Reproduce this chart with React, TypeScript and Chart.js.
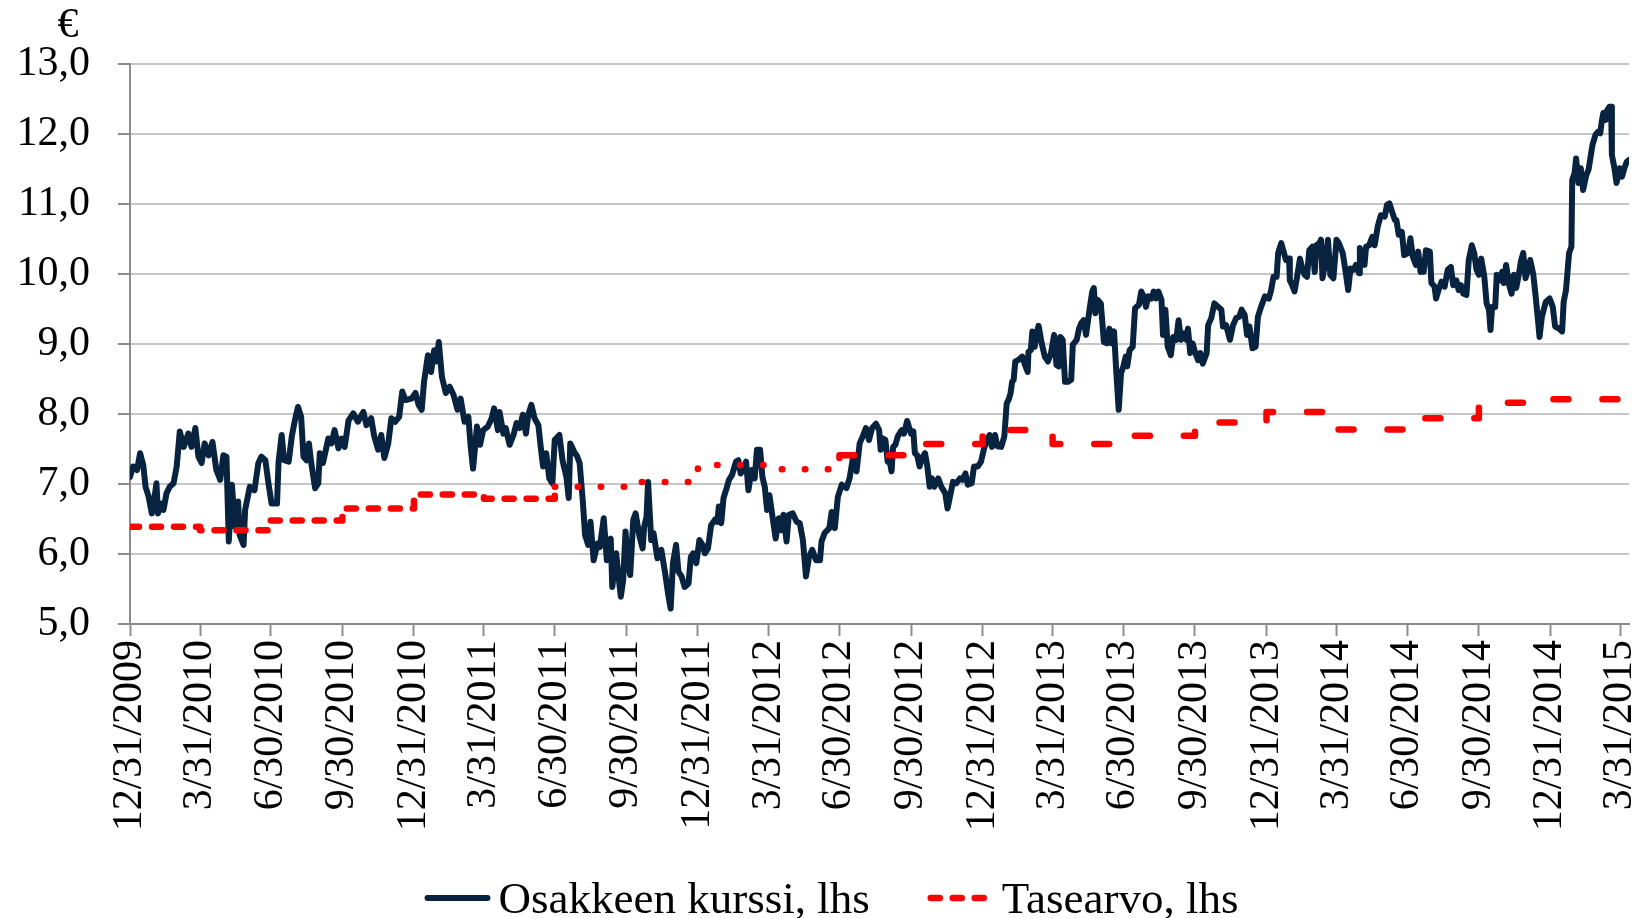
import React, { useEffect, useRef } from 'react';
import { Chart, registerables } from 'chart.js';

Chart.register(...registerables);

const FONT = '"Liberation Serif", "Times New Roman", serif';

const unitLabel = '€';
const seriesLabels = ['Osakkeen kurssi, lhs', 'Tasearvo, lhs'];
const seriesColors = ['#08233f', '#ff0000'];

const startDate = '12/31/2009';
const tickLabels = [
  '12/31/2009', '3/31/2010', '6/30/2010', '9/30/2010', '12/31/2010', '3/31/2011',
  '6/30/2011', '9/30/2011', '12/31/2011', '3/31/2012', '6/30/2012', '9/30/2012',
  '12/31/2012', '3/31/2013', '6/30/2013', '9/30/2013', '12/31/2013', '3/31/2014',
  '6/30/2014', '9/30/2014', '12/31/2014', '3/31/2015',
];
const yMin = 5;
const yMax = 13;
const lastDay = 1927;

// share price: [days since 12/31/2009, EUR]
const priceHistory: [number, number][] = [
  [0,7.10],[4,7.25],[9,7.20],[13,7.44],[17,7.27],[20,6.96],[24,6.82],[28,6.58],[31,6.77],[34,7.01],
  [36,6.58],[40,6.72],[43,6.63],[47,6.87],[51,6.96],[56,7.01],[60,7.25],[64,7.75],[69,7.53],[75,7.72],
  [79,7.53],[84,7.80],[88,7.39],[92,7.30],[96,7.58],[101,7.41],[106,7.60],[111,7.20],[116,7.06],[120,7.41],
  [124,7.39],[127,6.18],[131,6.99],[135,6.39],[139,6.75],[141,6.27],[146,6.13],[148,6.63],[154,6.96],[160,6.91],
  [165,7.30],[169,7.39],[174,7.34],[178,7.01],[182,6.72],[189,6.72],[191,7.32],[195,7.70],[198,7.34],[204,7.32],
  [208,7.68],[212,7.91],[216,8.10],[220,7.96],[223,7.39],[227,7.34],[230,7.58],[233,7.30],[238,6.94],[242,7.01],
  [244,7.44],[248,7.30],[255,7.65],[259,7.58],[263,7.77],[268,7.51],[272,7.65],[276,7.53],[281,7.91],[287,8.01],
  [293,7.89],[300,8.03],[304,7.84],[310,7.94],[314,7.68],[319,7.49],[323,7.70],[327,7.37],[332,7.58],[336,7.94],
  [341,7.89],[346,7.96],[350,8.32],[354,8.20],[362,8.22],[367,8.30],[371,8.13],[375,8.06],[378,8.46],[383,8.84],
  [387,8.60],[391,8.91],[394,8.75],[397,9.03],[401,8.53],[406,8.30],[411,8.39],[416,8.27],[421,8.06],[425,8.22],
  [430,7.89],[435,7.96],[438,7.53],[441,7.22],[446,7.82],[450,7.56],[454,7.77],[460,7.82],[465,7.94],[468,8.08],
  [473,7.77],[475,8.03],[480,7.72],[483,7.80],[488,7.56],[493,7.70],[497,7.87],[501,7.80],[505,7.99],[509,7.72],
  [512,7.99],[516,8.13],[520,7.94],[525,7.84],[528,7.53],[531,7.25],[535,7.44],[539,7.08],[543,7.01],[546,7.63],
  [552,7.70],[556,7.34],[561,7.10],[564,6.80],[566,7.58],[571,7.46],[575,7.39],[578,7.30],[582,6.77],[585,6.27],
  [589,6.13],[592,6.46],[596,5.91],[601,6.15],[604,6.10],[609,6.51],[613,5.91],[618,6.22],[620,5.53],[625,6.01],
  [628,5.68],[631,5.39],[634,5.63],[637,6.32],[640,5.91],[643,5.70],[647,6.49],[650,6.58],[655,6.25],[659,6.08],
  [661,6.39],[664,6.53],[666,7.03],[670,6.20],[673,6.30],[678,5.94],[683,6.06],[688,5.72],[692,5.41],[695,5.22],
  [698,5.87],[702,6.13],[705,5.75],[709,5.68],[713,5.53],[718,5.58],[721,5.96],[724,6.01],[728,5.87],[732,6.20],
  [736,6.13],[739,6.01],[743,6.08],[747,6.41],[752,6.49],[755,6.46],[757,6.68],[760,6.44],[763,6.80],[767,6.94],
  [770,7.06],[774,7.13],[779,7.32],[782,7.34],[785,7.15],[788,7.20],[792,7.32],[795,6.91],[799,7.20],[803,7.08],
  [806,7.49],[810,7.49],[813,7.10],[816,6.96],[819,6.63],[822,6.84],[826,6.53],[830,6.22],[834,6.51],[837,6.34],
  [840,6.56],[844,6.18],[847,6.56],[852,6.58],[857,6.46],[861,6.44],[865,6.20],[869,5.68],[873,5.96],[877,6.06],
  [882,5.91],[887,5.91],[889,6.18],[893,6.30],[899,6.37],[902,6.60],[906,6.37],[910,6.82],[915,6.99],[921,6.94],
  [925,7.08],[930,7.41],[934,7.18],[938,7.58],[942,7.68],[946,7.80],[950,7.63],[954,7.80],[959,7.86],[963,7.77],
  [965,7.49],[968,7.65],[971,7.63],[974,7.32],[977,7.30],[979,7.18],[981,7.53],[984,7.56],[987,7.68],[992,7.77],
  [995,7.72],[999,7.90],[1004,7.72],[1007,7.75],[1009,7.44],[1012,7.41],[1015,7.25],[1018,7.37],[1022,7.44],[1025,7.25],
  [1028,6.96],[1031,7.08],[1034,6.96],[1039,7.08],[1043,6.96],[1048,6.87],[1051,6.65],[1055,6.87],[1058,7.03],[1062,7.01],
  [1067,7.08],[1070,7.06],[1074,7.15],[1077,6.99],[1082,7.01],[1085,7.25],[1090,7.25],[1094,7.32],[1098,7.51],[1102,7.63],
  [1105,7.70],[1108,7.53],[1112,7.70],[1115,7.54],[1120,7.53],[1124,7.68],[1127,8.15],[1130,8.22],[1132,8.30],[1134,8.46],
  [1136,8.49],[1138,8.75],[1142,8.77],[1147,8.82],[1150,8.72],[1154,8.60],[1155,8.89],[1158,8.91],[1160,9.18],[1163,8.96],
  [1165,9.13],[1168,9.26],[1172,9.01],[1176,8.82],[1180,8.75],[1184,8.87],[1188,9.13],[1191,8.70],[1194,8.68],[1196,9.10],
  [1199,9.06],[1202,8.46],[1206,8.46],[1210,8.49],[1212,8.99],[1217,9.06],[1220,9.22],[1223,9.30],[1226,9.34],[1229,9.13],
  [1234,9.53],[1237,9.75],[1239,9.80],[1241,9.44],[1244,9.63],[1248,9.58],[1252,9.03],[1256,9.01],[1259,9.22],[1262,9.01],
  [1265,9.18],[1268,8.58],[1271,8.06],[1274,8.58],[1277,8.68],[1280,8.82],[1282,8.68],[1285,8.91],[1289,8.96],[1292,9.51],
  [1297,9.56],[1300,9.75],[1303,9.68],[1306,9.53],[1309,9.68],[1313,9.65],[1316,9.75],[1319,9.65],[1322,9.75],[1326,9.63],
  [1328,9.13],[1331,9.49],[1334,8.96],[1338,8.84],[1341,9.10],[1345,9.06],[1348,9.34],[1351,9.06],[1355,9.15],[1358,9.06],
  [1360,9.22],[1363,8.87],[1366,9.01],[1369,8.89],[1373,8.77],[1376,8.87],[1379,8.72],[1384,8.87],[1386,9.27],[1390,9.37],
  [1394,9.58],[1399,9.53],[1403,9.49],[1405,9.25],[1409,9.27],[1414,9.06],[1418,9.27],[1422,9.37],[1426,9.39],[1429,9.49],
  [1433,9.41],[1436,9.13],[1439,9.25],[1443,8.94],[1447,8.96],[1450,9.39],[1454,9.53],[1459,9.68],[1464,9.65],[1467,9.77],
  [1470,9.96],[1474,9.96],[1476,10.30],[1480,10.44],[1483,10.32],[1486,10.20],[1490,10.22],[1491,9.91],[1494,9.84],[1497,9.75],
  [1500,9.94],[1504,10.22],[1507,10.08],[1510,9.99],[1513,9.96],[1516,10.34],[1520,10.39],[1523,10.03],[1525,10.41],[1529,10.44],
  [1531,10.49],[1533,9.94],[1537,10.20],[1540,10.49],[1543,9.99],[1547,9.94],[1551,10.49],[1554,10.44],[1559,10.30],[1563,10.01],
  [1566,9.77],[1569,10.08],[1573,10.06],[1576,10.13],[1580,10.01],[1581,10.37],[1584,10.27],[1587,10.13],[1589,10.39],[1593,10.41],
  [1597,10.53],[1600,10.41],[1604,10.68],[1608,10.84],[1613,10.82],[1616,10.99],[1619,11.01],[1623,10.87],[1626,10.77],[1628,10.77],
  [1631,10.56],[1635,10.60],[1638,10.27],[1643,10.30],[1646,10.51],[1649,10.25],[1653,10.13],[1656,10.32],[1659,10.03],[1661,10.18],
  [1663,10.03],[1666,10.34],[1671,10.32],[1673,9.87],[1677,9.82],[1679,9.65],[1683,9.80],[1686,9.89],[1690,9.82],[1694,10.06],
  [1698,10.10],[1701,9.84],[1705,9.91],[1708,9.77],[1711,9.84],[1714,9.72],[1718,9.70],[1721,10.20],[1725,10.41],[1728,10.30],
  [1731,10.06],[1734,9.99],[1737,10.22],[1741,9.96],[1744,9.58],[1747,9.49],[1749,9.20],[1751,9.53],[1755,9.53],[1757,9.99],
  [1761,9.91],[1764,10.03],[1766,9.87],[1769,10.13],[1773,9.84],[1776,9.72],[1779,9.99],[1782,9.80],[1786,10.03],[1788,10.18],
  [1791,10.30],[1794,9.94],[1797,10.06],[1800,10.20],[1804,9.99],[1807,9.68],[1810,9.34],[1812,9.10],[1815,9.39],[1820,9.60],
  [1825,9.65],[1829,9.53],[1832,9.25],[1837,9.22],[1841,9.18],[1843,9.60],[1846,9.77],[1850,10.30],[1853,10.39],[1854,11.34],
  [1857,11.44],[1859,11.65],[1862,11.30],[1865,11.51],[1868,11.20],[1872,11.41],[1875,11.49],[1877,11.63],[1880,11.84],[1884,11.99],
  [1887,12.03],[1890,12.01],[1892,12.18],[1894,12.30],[1897,12.20],[1898,12.32],[1902,12.39],[1904,12.39],[1905,11.70],[1908,11.53],
  [1911,11.30],[1915,11.51],[1918,11.39],[1921,11.51],[1924,11.60],[1927,11.63],
];

// book value per share, changes at quarter ends
const bookDates = [
  '12/31/2009', '3/31/2010', '6/30/2010', '9/30/2010', '12/31/2010', '3/31/2011',
  '6/30/2011', '9/30/2011', '12/31/2011', '3/31/2012', '6/30/2012', '9/30/2012',
  '12/31/2012', '3/31/2013', '6/30/2013', '9/30/2013', '12/31/2013', '3/31/2014',
  '6/30/2014', '9/30/2014', '12/31/2014', '4/10/2015',
];
const bookValues = [
  6.39, 6.34, 6.48, 6.65, 6.85, 6.79, 6.96, 7.03, 7.27, 7.21, 7.41,
  7.57, 7.77, 7.57, 7.69, 7.88, 8.03, 7.78, 7.94, 8.16, 8.21, 8.21,
];

const dayOf = (label: string) => {
  const [m, d, y] = label.split('/').map(Number);
  const [m0, d0, y0] = startDate.split('/').map(Number);
  return Math.round((Date.UTC(y, m - 1, d) - Date.UTC(y0, m0 - 1, d0)) / 86400000);
};

const tickDays = tickLabels.map(dayOf);
const dottedFrom = dayOf('6/30/2011');
const longDashFrom = dayOf('6/30/2012');
const legendDashes = [[], [9, 13]];

const euroPlugin = {
  id: 'euroLabel',
  afterDraw(chart: any) {
    const { ctx, chartArea } = chart;
    ctx.save();
    ctx.font = `42px ${FONT}`;
    ctx.fillStyle = '#000';
    ctx.textAlign = 'center';
    ctx.textBaseline = 'alphabetic';
    ctx.fillText(unitLabel, chartArea.left - 62, chartArea.top - 27);
    ctx.restore();
  },
};

const legendPlugin = {
  id: 'bottomLegend',
  afterDraw(chart: any) {
    const { ctx } = chart;
    ctx.save();
    ctx.font = `45px ${FONT}`;
    const sampleW = 66;
    const textGap = 8;
    const itemGap = 58;
    const widths = seriesLabels.map((l) => ctx.measureText(l).width);
    const total = widths.reduce((a: number, w: number) => a + sampleW + textGap + w, 0) + itemGap * (seriesLabels.length - 1);
    let x = chart.width / 2 + 10 - total / 2;
    const lineY = 898;
    const textY = 913;
    seriesLabels.forEach((label, i) => {
      const ds = chart.data.datasets[i];
      ctx.save();
      ctx.strokeStyle = seriesColors[i];
      ctx.lineWidth = ds.borderWidth;
      ctx.lineCap = 'round';
      ctx.setLineDash(legendDashes[i]);
      ctx.beginPath();
      ctx.moveTo(x + 3, lineY);
      ctx.lineTo(x + sampleW - 3, lineY);
      ctx.stroke();
      ctx.restore();
      ctx.fillStyle = '#000';
      ctx.textAlign = 'left';
      ctx.textBaseline = 'alphabetic';
      ctx.fillText(label, x + sampleW + textGap, textY);
      x += sampleW + textGap + widths[i] + itemGap;
    });
    ctx.restore();
  },
};

export default function App() {
  const canvasRef = useRef<HTMLCanvasElement | null>(null);

  useEffect(() => {
    if (!canvasRef.current) return;
    const chart = new Chart(canvasRef.current, {
      type: 'line',
      data: {
        datasets: [
          {
            label: seriesLabels[0],
            data: priceHistory.map(([d, v]) => ({ x: d, y: v })),
            borderColor: seriesColors[0],
            backgroundColor: seriesColors[0],
            borderWidth: 6,
            pointRadius: 0,
            borderJoinStyle: 'round',
            borderCapStyle: 'round',
            tension: 0,
            order: 1,
          },
          {
            label: seriesLabels[1],
            data: bookDates.map((d, i) => ({ x: dayOf(d), y: bookValues[i] })),
            borderColor: seriesColors[1],
            backgroundColor: seriesColors[1],
            borderWidth: 6.5,
            pointRadius: 0,
            stepped: true,
            borderCapStyle: 'round',
            borderJoinStyle: 'round',
            order: 0,
            segment: {
              borderDash: (c: any) => {
                const x = c.p0.parsed.x;
                if (x < dottedFrom) return [9, 13];
                if (x < longDashFrom) return [0.5, 22.5];
                return [15, 34];
              },
            },
          },
        ],
      },
      options: {
        responsive: false,
        animation: false,
        events: [],
        layout: { padding: { top: 64, right: 14, left: 0, bottom: 0 } },
        plugins: {
          legend: { display: false },
          tooltip: { enabled: false },
          title: { display: false },
        },
        scales: {
          x: {
            type: 'linear',
            min: 0,
            max: lastDay,
            afterBuildTicks: (scale: any) => {
              scale.ticks = tickDays.map((v) => ({ value: v }));
            },
            afterFit: (scale: any) => {
              scale.height = 294;
              scale.paddingLeft = 0;
              scale.paddingRight = 0;
            },
            grid: {
              drawOnChartArea: false,
              drawTicks: true,
              tickLength: 12,
              tickColor: '#8c8c8c',
              tickWidth: 2,
            },
            border: { display: true, color: '#8c8c8c', width: 2 },
            ticks: {
              autoSkip: false,
              minRotation: 90,
              maxRotation: 90,
              padding: 4,
              color: '#000',
              font: { family: FONT, size: 42 },
              callback: (_v: any, i: number) => tickLabels[i],
            },
          },
          y: {
            min: yMin,
            max: yMax,
            afterFit: (scale: any) => {
              scale.width = 130;
              scale.paddingTop = 0;
              scale.paddingBottom = 0;
            },
            grid: {
              color: '#c6c6c6',
              lineWidth: 2,
              drawTicks: true,
              tickLength: 12,
              tickColor: '#8c8c8c',
              tickWidth: 2,
            },
            border: { display: true, color: '#8c8c8c', width: 2 },
            ticks: {
              stepSize: 1,
              padding: 28,
              color: '#000',
              font: { family: FONT, size: 42 },
              callback: (v: any) => Number(v).toFixed(1).replace('.', ','),
            },
          },
        },
      },
      plugins: [euroPlugin, legendPlugin],
    } as any);
    return () => chart.destroy();
  }, []);

  return (
    <div style={{ position: 'fixed', left: 0, top: 0, width: 1643, height: 918, background: '#fff' }}>
      <canvas ref={canvasRef} width={1643} height={918} style={{ width: 1643, height: 918, display: 'block' }} />
    </div>
  );
}
